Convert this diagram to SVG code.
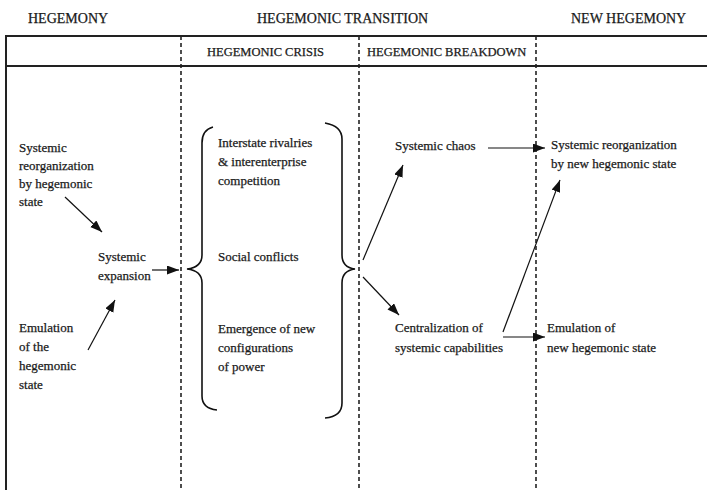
<svg xmlns="http://www.w3.org/2000/svg" width="707" height="490" viewBox="0 0 707 490">
<defs>
<marker id="ah" markerUnits="userSpaceOnUse" markerWidth="13" markerHeight="10" refX="12" refY="4.5" orient="auto">
<path d="M0,0 L12,4.5 L0,9 Z" fill="#111"/>
</marker>
<style>
text{font-family:"Liberation Serif","Times New Roman",serif;fill:#1a1a1a;stroke:#1a1a1a;stroke-width:0.25;}
.hd{font-size:14px;}
.sh{font-size:12.5px;}
.t{font-size:13px;}
.frame{stroke:#222;stroke-width:2;fill:none;}
.dash{stroke:#222;stroke-width:1.6;stroke-dasharray:4 3;fill:none;}
.arr{stroke:#111;stroke-width:1.2;fill:none;marker-end:url(#ah);}
.br{stroke:#111;stroke-width:1.6;fill:none;}
</style>
</defs>
<rect width="707" height="490" fill="#fff"/>
<g id="frame">
<line class="frame" x1="6" y1="36" x2="707" y2="36"/>
<line class="frame" x1="6" y1="66" x2="707" y2="66"/>
<line class="frame" x1="6" y1="35" x2="6" y2="490"/>
<line class="dash" x1="181" y1="36" x2="181" y2="490"/>
<line class="dash" x1="359" y1="36" x2="359" y2="490"/>
<line class="dash" x1="536" y1="36" x2="536" y2="490"/>
</g>
<g id="headers">
<text class="hd" x="28" y="23">HEGEMONY</text>
<text class="hd" x="257" y="23">HEGEMONIC TRANSITION</text>
<text class="hd" x="571" y="23">NEW HEGEMONY</text>
<text class="sh" x="207" y="56">HEGEMONIC CRISIS</text>
<text class="sh" x="367" y="56">HEGEMONIC BREAKDOWN</text>
</g>
<g id="n-reorg">
<text class="t" x="19" y="152">Systemic</text>
<text class="t" x="19" y="170">reorganization</text>
<text class="t" x="19" y="188">by hegemonic</text>
<text class="t" x="19" y="206">state</text>
</g>
<g id="n-expansion">
<text class="t" x="98" y="261">Systemic</text>
<text class="t" x="98" y="280">expansion</text>
</g>
<g id="n-emulation">
<text class="t" x="19" y="332">Emulation</text>
<text class="t" x="19" y="351">of the</text>
<text class="t" x="19" y="370">hegemonic</text>
<text class="t" x="19" y="389">state</text>
</g>
<g id="n-crisis">
<path class="br" d="M213,127 C205,129 202,134 202,143 L202,255 C202,264 196,268 187,269 C196,270 202,274 202,283 L202,396 C202,405 207,409 217,410"/>
<path class="br" d="M325,123 C336,125 342,130 342,139 L342,255 C342,264 347,268 355,269 C347,270 342,274 342,283 L342,403 C342,412 336,417 325,418"/>
<text class="t" x="218" y="147">Interstate rivalries</text>
<text class="t" x="218" y="166">&amp; interenterprise</text>
<text class="t" x="218" y="185">competition</text>
<text class="t" x="218" y="261">Social conflicts</text>
<text class="t" x="218" y="333">Emergence of new</text>
<text class="t" x="218" y="352">configurations</text>
<text class="t" x="218" y="371">of power</text>
</g>
<g id="n-chaos">
<text class="t" x="395" y="150">Systemic chaos</text>
</g>
<g id="n-central">
<text class="t" x="395" y="332">Centralization of</text>
<text class="t" x="395" y="352">systemic capabilities</text>
</g>
<g id="n-newreorg">
<text class="t" x="551" y="149">Systemic reorganization</text>
<text class="t" x="551" y="168">by new hegemonic state</text>
</g>
<g id="n-newemul">
<text class="t" x="547" y="332">Emulation of</text>
<text class="t" x="547" y="352">new hegemonic state</text>
</g>
<g id="connectors">
<line class="arr" x1="65" y1="197" x2="102" y2="232"/>
<line class="arr" x1="88" y1="350" x2="115" y2="300"/>
<line class="arr" x1="152" y1="270" x2="179" y2="270"/>
<line class="arr" x1="363" y1="260" x2="403" y2="165"/>
<line class="arr" x1="363" y1="277" x2="399" y2="315"/>
<line class="arr" x1="488" y1="148" x2="545" y2="148"/>
<line class="arr" x1="503" y1="332" x2="560" y2="180"/>
<line class="arr" x1="503" y1="337" x2="545" y2="337"/>
</g>
</svg>
